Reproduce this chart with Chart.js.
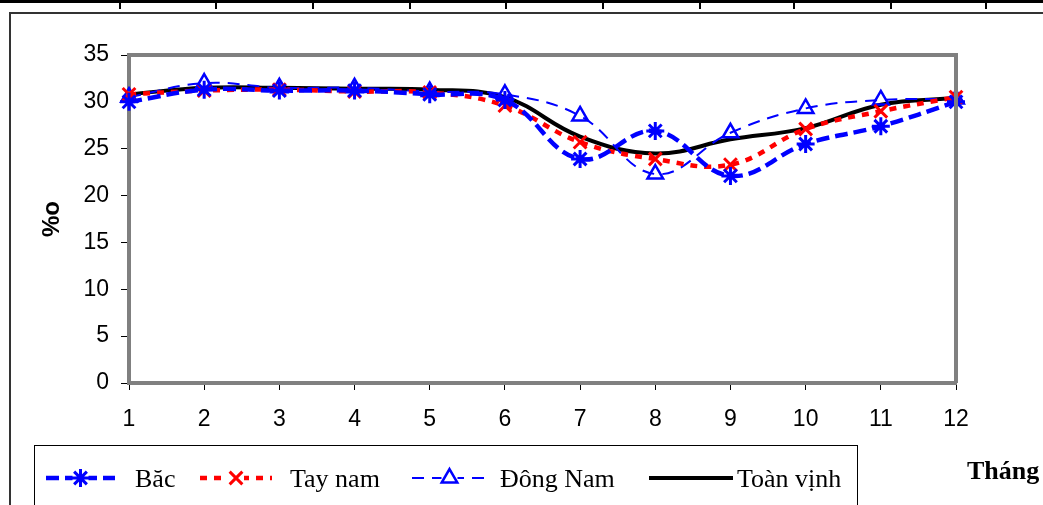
<!DOCTYPE html>
<html>
<head>
<meta charset="utf-8">
<script src="https://cdn.jsdelivr.net/npm/chart.js@4"></script>
<style>
  html, body { margin: 0; padding: 0; background: #fff; }
  #wrap { width: 1043px; height: 505px; position: relative; }
</style>
</head>
<body>
<div id="wrap"><canvas id="chart" width="1043" height="505"></canvas></div>
<script>
// Months and salinity (%o) by area
const months = ['1', '2', '3', '4', '5', '6', '7', '8', '9', '10', '11', '12'];
const bac = [30.0, 31.3, 31.2, 31.2, 30.8, 30.2, 23.9, 26.9, 22.1, 25.5, 27.4, 30.0];
const tayNam = [30.8, 31.2, 31.3, 31.1, 31.0, 29.6, 25.7, 23.9, 23.3, 27.1, 29.0, 30.5];
const dongNam = [30.5, 32.0, 31.5, 31.5, 31.1, 30.8, 28.5, 22.3, 26.7, 29.3, 30.2, 30.3];
const toanVinh = [30.8, 31.5, 31.5, 31.4, 31.3, 30.5, 26.3, 24.5, 26.0, 27.2, 29.7, 30.4];
const seriesNames = ['Băc', 'Tay nam', 'Đông Nam', 'Toàn vịnh'];
const yTicks = [0, 5, 10, 15, 20, 25, 30, 35];

// Frame, plot border and legend drawn around the chart
const decorations = {
    id: 'decorations',
    beforeDraw(chart) {
        const c = chart.ctx;
        c.save();
        c.fillStyle = '#fff';
        c.fillRect(0, 0, chart.width, chart.height);
        // table line on top
        c.fillStyle = '#000';
        c.fillRect(0, 0, chart.width, 3);
        [119, 215, 312, 409, 505, 602, 699, 793, 890, 985].forEach(x => c.fillRect(x, 0, 2, 9));
        // outer frame
        c.strokeStyle = '#333';
        c.lineWidth = 2;
        c.beginPath();
        c.moveTo(1043, 13);
        c.lineTo(10, 13);
        c.lineTo(10, 505);
        c.stroke();
        c.restore();
    },
    afterDraw(chart) {
        const c = chart.ctx;
        const a = chart.chartArea;
        c.save();
        // plot area top + right border
        c.strokeStyle = '#808080';
        c.lineWidth = 4;
        c.beginPath();
        c.moveTo(a.left, a.top);
        c.lineTo(a.right, a.top);
        c.lineTo(a.right, a.bottom);
        c.stroke();

        // legend box
        c.strokeStyle = '#000';
        c.lineWidth = 1;
        c.strokeRect(34.5, 445.5, 823, 70);
        const items = [
            { x1: 46, x2: 115, tx: 135 },
            { x1: 200, x2: 272, tx: 290 },
            { x1: 412, x2: 487, tx: 500 },
            { x1: 649, x2: 733, tx: 737 }
        ];
        const ly = 478;
        chart.data.datasets.forEach((ds, i) => {
            const it = items[i];
            c.strokeStyle = ds.borderColor;
            c.lineWidth = ds.borderWidth;
            c.setLineDash(ds.borderDash || []);
            c.beginPath();
            c.moveTo(it.x1, ly);
            c.lineTo(it.x2, ly);
            c.stroke();
            c.setLineDash([]);
            if (ds.pointStyle && ds.pointRadius > 0) {
                const mx = (it.x1 + it.x2) / 2;
                c.fillStyle = '#fff';
                c.fillRect(mx - 8, ly - 9, 16, 18);
                c.strokeStyle = ds.pointBorderColor;
                c.lineWidth = ds.pointBorderWidth;
                c.fillStyle = ds.pointBackgroundColor;
                Chart.helpers.drawPoint(c, {
                    pointStyle: ds.pointStyle,
                    radius: ds.pointRadius,
                    borderWidth: ds.pointBorderWidth,
                    rotation: 0
                }, mx, ly);
            }
            c.fillStyle = '#000';
            c.font = '26px "Liberation Serif", "Times New Roman", serif';
            c.textBaseline = 'alphabetic';
            c.textAlign = 'left';
            c.fillText(ds.label, it.tx, ly + 9);
        });

        c.font = 'bold 26px "Liberation Serif", "Times New Roman", serif';
        c.fillText('Tháng', 967, 479);
        c.restore();
    }
};

const ctx = document.getElementById('chart').getContext('2d');
new Chart(ctx, {
    type: 'line',
    data: {
        labels: months,
        datasets: [
            {
                label: seriesNames[0],
                data: bac,
                borderColor: '#0000ff',
                borderWidth: 4.5,
                borderDash: [13, 6],
                pointStyle: 'star',
                pointRadius: 9,
                pointBorderWidth: 3,
                pointBorderColor: '#0000ff',
                pointBackgroundColor: '#0000ff',
                tension: 0.4
            },
            {
                label: seriesNames[1],
                data: tayNam,
                borderColor: '#ff0000',
                borderWidth: 4.5,
                borderDash: [7, 7],
                pointStyle: 'crossRot',
                pointRadius: 9,
                pointBorderWidth: 3,
                pointBorderColor: '#ff0000',
                pointBackgroundColor: '#ff0000',
                tension: 0.4
            },
            {
                label: seriesNames[2],
                data: dongNam,
                borderColor: '#0000ff',
                borderWidth: 2,
                borderDash: [12, 8],
                pointStyle: 'triangle',
                pointRadius: 9,
                pointBorderWidth: 2.5,
                pointBorderColor: '#0000ff',
                pointBackgroundColor: 'rgba(255,255,255,0)',
                tension: 0.4
            },
            {
                label: seriesNames[3],
                data: toanVinh,
                borderColor: '#000000',
                borderWidth: 4,
                pointRadius: 0,
                pointStyle: false,
                tension: 0.4
            }
        ]
    },
    options: {
        responsive: false,
        animation: false,
        layout: { padding: { left: 0, top: 55, right: 87, bottom: 0 } },
        plugins: {
            legend: { display: false },
            tooltip: { enabled: false }
        },
        scales: {
            x: {
                offset: false,
                grid: { drawOnChartArea: false, drawTicks: true, tickLength: 7, tickColor: '#000', lineWidth: 1 },
                border: { color: '#808080', width: 4 },
                ticks: {
                    color: '#000', padding: 16, maxRotation: 0,
                    font: { family: '"Liberation Sans", Arial, sans-serif', size: 23 }
                },
                afterFit(scale) { scale.height = 122; }
            },
            y: {
                min: 0,
                max: 35,
                afterBuildTicks(scale) { scale.ticks = yTicks.map(v => ({ value: v })); },
                grid: { drawOnChartArea: false, drawTicks: true, tickLength: 8, tickColor: '#000', lineWidth: 1 },
                border: { color: '#808080', width: 4 },
                ticks: {
                    color: '#000', padding: 12,
                    font: { family: '"Liberation Sans", Arial, sans-serif', size: 23 }
                },
                title: {
                    display: true,
                    text: '%o',
                    color: '#000',
                    padding: { top: 38, bottom: 0 },
                    font: { family: '"Liberation Sans", Arial, sans-serif', size: 24, weight: 'bold' }
                },
                afterFit(scale) { scale.width = 129; }
            }
        }
    },
    plugins: [decorations]
});
</script>
</body>
</html>
